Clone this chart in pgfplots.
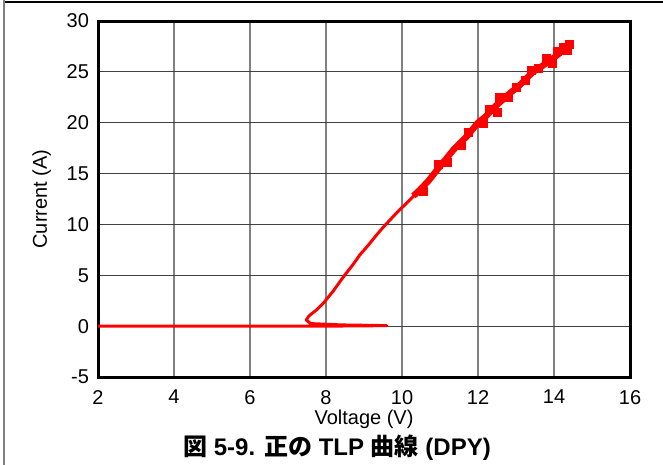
\documentclass[border=0pt]{standalone}
\usepackage{fontspec}
\setmainfont{Liberation Sans}
\newfontfamily\cjk{Noto Sans CJK JP}
\usepackage{pgfplots}
\pgfplotsset{compat=1.18}
\begin{document}
\begin{tikzpicture}[x=1pt,y=1pt]
  % canvas: 1 px of the reference = 0.5 pt
  \useasboundingbox (0,0) rectangle (331.5,232.5);
  \draw[black, line width=0.6pt] (2,231.5) -- (331.5,231.5);
  \draw[gray, line width=0.6pt] (2,232.5) -- (2,0);
  \begin{axis}[
      at={(49pt,44pt)}, anchor=south west,
      scale only axis,
      width=266pt, height=178pt,
      xmin=2, xmax=16, ymin=-5, ymax=30,
      xtick={2,4,...,16},
      ytick={-5,0,...,30},
      major tick length=0pt,
      grid=major,
      x grid style={gray, line width=0.8pt},
      y grid style={black!75, line width=0.6pt},
      axis line style={black, line width=1.5pt},
      tick label style={font=\fontsize{10}{11}\selectfont},
      /pgf/number format/assume math mode=true,
      xticklabel style={yshift=-3pt},
      yticklabel style={xshift=-1pt},
      xlabel={Voltage (V)},
      ylabel={Current (A)},
      label style={font=\fontsize{10}{11}\selectfont},
      xlabel style={yshift=4pt},
      ylabel style={yshift=1pt},
    ]
    % TLP curve
    \addplot[red, line width=1.5pt, line join=round] coordinates {
      (2,0) (5,0) (8,0) (9.6,0.05) (8.4,0.12) (7.6,0.25) (7.48,0.6)
      (7.55,1.0) (7.75,1.6) (7.93,2.25) (8.2,3.5) (8.46,4.86) (8.7,6.0)
      (8.89,7.0) (9.1,7.9) (9.33,8.96) (9.5,9.7) (9.65,10.3) (9.9,11.3)
      (10.12,12.08) (10.47,13.39) (10.7,14.3) (10.91,15.3) (11.15,16.4)
      (11.35,17.32) (11.5,17.9) (11.7,18.63) (12.0,20.0) (12.2,20.6)
      (12.4,21.42) (12.6,22.1) (12.84,22.9) (13.1,23.7) (13.45,25.0)
      (13.7,25.6) (14.0,26.4) (14.2,27.0) (14.42,27.6)
    };
    % wider, noisy upper part
    \addplot[red, line width=3.2pt, line join=round] coordinates {
      (10.3,12.8) (10.47,13.39) (10.7,14.3) (10.91,15.3) (11.15,16.4)
      (11.35,17.32) (11.5,17.9) (11.7,18.63) (12.0,20.0) (12.2,20.6)
      (12.4,21.42) (12.6,22.1) (12.84,22.9) (13.1,23.7) (13.45,25.0)
      (13.7,25.6) (14.0,26.4) (14.2,27.0) (14.42,27.6)
    };
    \addplot[red, only marks, mark=square*, mark size=2pt] coordinates {
      (10.55,13.2) (10.95,15.9) (11.2,16.1) (11.55,17.8) (11.75,19.0)
      (12.15,19.9) (12.3,21.3) (12.5,21.0) (12.55,22.5) (12.8,22.5)
      (13.0,23.5) (13.25,24.2) (13.4,25.1) (13.6,25.3) (13.8,26.3)
      (13.95,25.8) (14.1,27.0) (14.25,27.4) (14.35,27.1) (14.4,27.7)
    };
  \end{axis}
  \node[font=\fontsize{12}{13}\selectfont\bfseries] at (168.5,8.5)
    {{\cjk 図} 5-9. {\cjk 正の} TLP {\cjk 曲線} (DPY)};
\end{tikzpicture}
\end{document}
